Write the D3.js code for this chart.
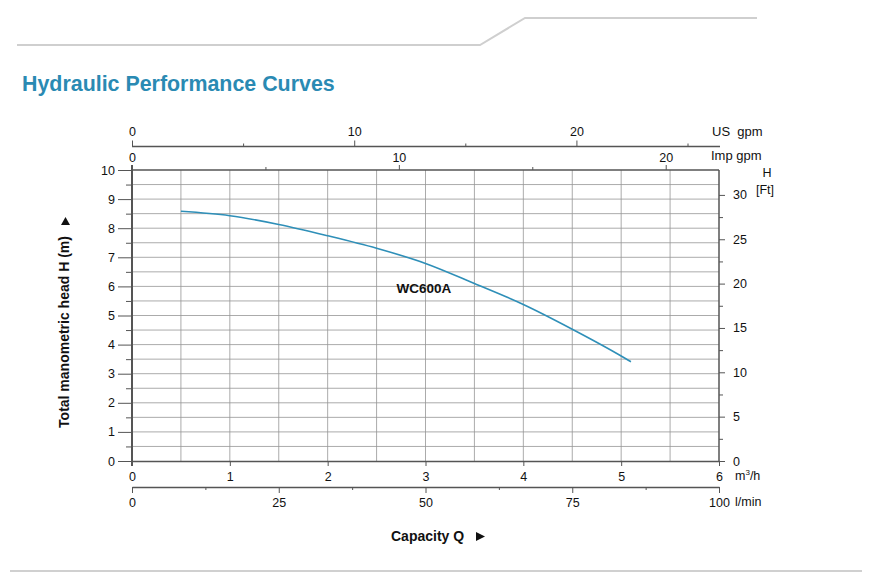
<!DOCTYPE html>
<html>
<head>
<meta charset="utf-8">
<script src="https://cdn.jsdelivr.net/npm/d3@7"></script>
<style>
  html, body { margin: 0; padding: 0; background: #fff; }
  svg { display: block; font-family: "Liberation Sans", Arial, sans-serif; }
</style>
</head>
<body>
<svg id="chart" width="877" height="579"></svg>
<script>
// ---- data ----
const flowM3h = [0.5, 1.0, 1.5, 2.0, 2.5, 3.0, 3.5, 4.0, 4.5, 5.0, 5.1];
const headM   = [8.58, 8.43, 8.13, 7.74, 7.31, 6.79, 6.10, 5.38, 4.53, 3.61, 3.41];
const seriesName = "WC600A";
const m3hTicks = [0, 1, 2, 3, 4, 5, 6];
const lminTicks = [0, 25, 50, 75, 100];
const lminMinor = [12.5, 37.5, 62.5, 87.5];
const usTicks = [0, 10, 20];
const usMinor = [5, 15, 25];
const impTicks = [0, 10, 20];
const impMinor = [5, 15];
const headTicks = [0, 1, 2, 3, 4, 5, 6, 7, 8, 9, 10];
const ftTicks = [0, 5, 10, 15, 20, 25, 30];
const ftMinor = [2.5, 7.5, 12.5, 17.5, 22.5, 27.5];

const svg = d3.select("#chart");
const pL = 132, pR = 719, pT = 170, pB = 461;
const axisColor = "#555";
const gridColor = "#959595";

const x = d3.scaleLinear().domain([0, 6]).range([pL, pR]);
const y = d3.scaleLinear().domain([0, 10]).range([pB, pT]);
const yFt = d3.scaleLinear().domain([0, 10 / 0.3048]).range([pB, pT]);
const xUS = d3.scaleLinear().domain([0, 6 * 4.402868]).range([pL, pR]);
const xImp = d3.scaleLinear().domain([0, 6 * 3.666154]).range([pL, pR]);
const xL = d3.scaleLinear().domain([0, 100]).range([pL, pR]);

// decorative lines
svg.append("path").attr("d", "M17,45 L480,45 L525,18 L757,18")
  .attr("fill", "none").attr("stroke", "#cfcfcf").attr("stroke-width", 2);
svg.append("line").attr("x1", 10).attr("x2", 862).attr("y1", 571).attr("y2", 571)
  .attr("stroke", "#d0d0d0").attr("stroke-width", 2);

// title
svg.append("text").attr("x", 22).attr("y", 91)
  .attr("font-size", 21.4).attr("font-weight", "bold").attr("fill", "#2a8ab3")
  .text("Hydraulic Performance Curves");

// grid
const vGrid = d3.range(0.5, 6, 0.5);
const hGrid = d3.range(0.5, 10, 0.5);
svg.append("g").selectAll("line").data(vGrid).join("line")
  .attr("x1", d => x(d)).attr("x2", d => x(d)).attr("y1", pT).attr("y2", pB)
  .attr("stroke", gridColor).attr("stroke-width", 0.8);
svg.append("g").selectAll("line").data(hGrid).join("line")
  .attr("x1", pL).attr("x2", pR).attr("y1", d => y(d)).attr("y2", d => y(d))
  .attr("stroke", gridColor).attr("stroke-width", 0.8);

function styleAxis(g, fs) {
  g.selectAll("path.domain").attr("stroke", axisColor);
  g.selectAll(".tick line").attr("stroke", axisColor);
  g.selectAll(".tick text").attr("fill", "#111").attr("font-size", fs || 12.5)
    .attr("font-family", "Liberation Sans, Arial, sans-serif");
}

// left axis (head m)
const gl = svg.append("g").attr("transform", `translate(${pL},0)`)
  .call(d3.axisLeft(y).tickValues(headTicks).tickSize(14).tickSizeOuter(0).tickPadding(3).tickFormat(d3.format("d")));
styleAxis(gl);
gl.select("path.domain").remove();
svg.append("g").attr("transform", `translate(${pL},0)`)
  .call(d3.axisLeft(y).tickValues(d3.range(0.5, 10, 1)).tickSize(6).tickFormat(""))
  .call(g => g.select("path.domain").remove())
  .selectAll(".tick line").attr("stroke", axisColor);
svg.append("line").attr("x1", pL).attr("x2", pL).attr("y1", 165).attr("y2", 466)
  .attr("stroke", axisColor).attr("stroke-width", 2);

// plot border top & right
svg.append("line").attr("x1", pL).attr("x2", pR).attr("y1", pT).attr("y2", pT)
  .attr("stroke", axisColor).attr("stroke-width", 1.5);
svg.append("line").attr("x1", pR).attr("x2", pR).attr("y1", pT).attr("y2", pB)
  .attr("stroke", axisColor).attr("stroke-width", 1.5);

// bottom axis m3/h
const gb = svg.append("g").attr("transform", `translate(0,${pB})`)
  .call(d3.axisBottom(x).tickValues(m3hTicks).tickSize(5).tickSizeOuter(0).tickPadding(6).tickFormat(d3.format("d")));
styleAxis(gb);
gb.select("path.domain").attr("stroke-width", 1.5);
const unitM3 = svg.append("text").attr("x", 735).attr("y", 480).attr("font-size", 12.5).attr("fill", "#111");
unitM3.append("tspan").text("m");
unitM3.append("tspan").attr("dy", -5).attr("font-size", 8).text("3");
unitM3.append("tspan").attr("dy", 5).text("/h");

// bottom axis l/min
const gL = svg.append("g").attr("transform", "translate(0,487)")
  .call(d3.axisBottom(xL).tickValues(lminTicks).tickSize(6).tickSizeOuter(0).tickPadding(5).tickFormat(d3.format("d")));
styleAxis(gL);
gL.select("path.domain").attr("stroke-width", 1.3);
svg.append("g").attr("transform", "translate(0,487)")
  .call(d3.axisBottom(xL).tickValues(lminMinor).tickSize(3).tickFormat(""))
  .call(g => g.select("path.domain").remove())
  .selectAll(".tick line").attr("stroke", axisColor);
svg.append("text").attr("x", 735).attr("y", 506).attr("font-size", 12.5).attr("fill", "#111").text("l/min");

// right axis ft
const gr = svg.append("g").attr("transform", `translate(${pR},0)`)
  .call(d3.axisRight(yFt).tickValues(ftTicks).tickSize(6).tickSizeOuter(0).tickPadding(8).tickFormat(d3.format("d")));
styleAxis(gr);
gr.select("path.domain").remove();
svg.append("g").attr("transform", `translate(${pR},0)`)
  .call(d3.axisRight(yFt).tickValues(ftMinor).tickSize(4).tickFormat(""))
  .call(g => g.select("path.domain").remove())
  .selectAll(".tick line").attr("stroke", axisColor);
svg.append("text").attr("x", 767).attr("y", 177).attr("font-size", 12.5).attr("text-anchor", "middle").attr("fill", "#111").text("H");
svg.append("text").attr("x", 765).attr("y", 194).attr("font-size", 12.5).attr("text-anchor", "middle").attr("fill", "#111").text("[Ft]");

// top axis US gpm
const gu = svg.append("g").attr("transform", "translate(0,146.5)")
  .call(d3.axisTop(xUS).tickValues(usTicks).tickSize(6).tickSizeOuter(0).tickPadding(5).tickFormat(d3.format("d")));
styleAxis(gu);
gu.select("path.domain").attr("stroke-width", 1.3).attr("d", `M${pL},0H${pR + 1}`);
svg.append("g").attr("transform", "translate(0,146.5)")
  .call(d3.axisTop(xUS).tickValues(usMinor).tickSize(3).tickFormat(""))
  .call(g => g.select("path.domain").remove())
  .selectAll(".tick line").attr("stroke", axisColor);
svg.append("text").attr("x", 712).attr("y", 136).attr("font-size", 13).attr("fill", "#111").attr("xml:space", "preserve").text("US  gpm");

// top axis Imp gpm
const gi = svg.append("g").attr("transform", `translate(0,${pT})`)
  .call(d3.axisTop(xImp).tickValues(impTicks).tickSize(5).tickSizeOuter(0).tickPadding(3).tickFormat(d3.format("d")));
styleAxis(gi);
gi.select("path.domain").remove();
svg.append("g").attr("transform", `translate(0,${pT})`)
  .call(d3.axisTop(xImp).tickValues(impMinor).tickSize(3).tickFormat(""))
  .call(g => g.select("path.domain").remove())
  .selectAll(".tick line").attr("stroke", axisColor);
svg.append("text").attr("x", 711).attr("y", 160).attr("font-size", 13).attr("fill", "#111").text("Imp gpm");

// curve
const pts = flowM3h.map((q, i) => [q, headM[i]]);
svg.append("path").datum(pts)
  .attr("d", d3.line().x(d => x(d[0])).y(d => y(d[1])).curve(d3.curveMonotoneX))
  .attr("fill", "none").attr("stroke", "#2e8fb8").attr("stroke-width", 1.6);

svg.append("text").attr("x", 424).attr("y", 293).attr("text-anchor", "middle")
  .attr("font-size", 13.5).attr("font-weight", "bold").attr("fill", "#111").text(seriesName);

// axis titles
svg.append("text").attr("transform", "translate(69,332) rotate(-90)")
  .attr("text-anchor", "middle").attr("font-size", 14).attr("font-weight", "bold").attr("fill", "#111")
  .text("Total manometric head H (m)");
svg.append("path").attr("d", "M65.5,217 L70,225 L61,225 Z").attr("fill", "#111");

svg.append("text").attr("x", 391).attr("y", 541).attr("font-size", 14).attr("font-weight", "bold").attr("fill", "#111")
  .text("Capacity Q");
svg.append("path").attr("d", "M476,532 L485,536.5 L476,541 Z").attr("fill", "#111");
</script>
</body>
</html>
